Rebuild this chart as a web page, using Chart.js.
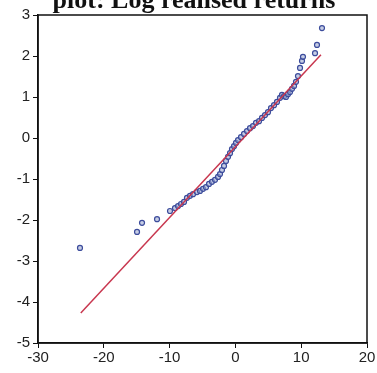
<!DOCTYPE html>
<html>
<head>
<meta charset="utf-8">
<script src="https://cdn.jsdelivr.net/npm/chart.js@4"></script>
<style>
  html, body { margin: 0; padding: 0; background: #fff; overflow: hidden; }
  #wrap { position: relative; width: 377px; height: 373px; }
  #title {
    position: absolute; left: 0; width: 388px; top: -15px;
    text-align: center; font: bold 26px "Liberation Serif", "DejaVu Serif", serif; color: #111;
    white-space: nowrap;
  }
</style>
</head>
<body>
<div id="wrap">
  <canvas id="qq" width="377" height="373"></canvas>
  <div id="title">plot: Log realised returns</div>
</div>
<script>
// quantiles of the data (x) against normal quantiles (y)
const dataQuantiles = [-23.62, -14.95, -14.19, -11.91, -9.94, -9.18, -8.72, -8.27, -7.81, -7.36,
  -6.90, -6.44, -5.84, -5.38, -4.92, -4.47, -4.01, -3.56, -3.10, -2.64,
  -2.34, -2.04, -1.73, -1.43, -1.12, -0.82, -0.52, -0.21, 0.09, 0.40,
  0.85, 1.31, 1.76, 2.22, 2.67, 3.13, 3.59, 4.04, 4.50, 4.95,
  5.41, 5.87, 6.32, 6.78, 7.08, 7.39, 7.69, 7.99, 8.30, 8.60,
  8.91, 9.21, 9.51, 9.82, 10.12, 10.27, 12.10, 12.40, 13.16];
const normalQuantiles = [-2.68, -2.29, -2.07, -1.98, -1.78, -1.71, -1.66, -1.61, -1.56, -1.46,
  -1.41, -1.37, -1.32, -1.29, -1.24, -1.20, -1.12, -1.07, -1.02, -0.95,
  -0.88, -0.78, -0.68, -0.56, -0.46, -0.37, -0.27, -0.20, -0.12, -0.05,
  0.02, 0.10, 0.17, 0.24, 0.29, 0.37, 0.41, 0.49, 0.56, 0.63,
  0.73, 0.80, 0.88, 0.98, 1.05, 1.02, 1.00, 1.07, 1.12, 1.20,
  1.27, 1.37, 1.51, 1.71, 1.88, 1.98, 2.07, 2.27, 2.68];
const refLineX = [-23.5, 13.0];
const refLineY = [-4.27, 2.03];
const xTicks = [-30, -20, -10, 0, 10, 20];
const yTicks = [-5, -4, -3, -2, -1, 0, 1, 2, 3];

const pts = dataQuantiles.map((x, i) => ({ x: x, y: normalQuantiles[i] }));
const refLine = refLineX.map((x, i) => ({ x: x, y: refLineY[i] }));

// EViews style frame round the plot area
const boxPlugin = {
  id: 'box',
  afterDraw(chart) {
    const a = chart.chartArea, ctx = chart.ctx;
    ctx.save();
    ctx.strokeStyle = '#111';
    ctx.lineWidth = 1.5;
    ctx.strokeRect(a.left, a.top, a.right - a.left, a.bottom - a.top);
    ctx.restore();
  }
};

const tickFont = { family: '"Liberation Sans", Arial, sans-serif', size: 15 };

new Chart(document.getElementById('qq'), {
  type: 'scatter',
  data: {
    datasets: [
      {
        type: 'line',
        data: refLine,
        borderColor: '#c8374f',
        borderWidth: 1.5,
        pointRadius: 0,
        fill: false
      },
      {
        data: pts,
        pointRadius: 2.5,
        pointBorderWidth: 1.2,
        borderColor: '#3c4c9c',
        backgroundColor: 'rgba(160,172,210,0.6)'
      }
    ]
  },
  options: {
    responsive: false,
    animation: false,
    layout: { padding: { top: 15, right: 10, left: 0, bottom: 0 } },
    plugins: { legend: { display: false }, tooltip: { enabled: false } },
    scales: {
      x: {
        type: 'linear', min: -30, max: 20,
        afterBuildTicks: s => { s.ticks = xTicks.map(v => ({ value: v })); },
        afterFit: s => { s.height = 30; },
        ticks: { color: '#222', font: tickFont, padding: 1, maxRotation: 0 },
        grid: { drawOnChartArea: false, tickLength: 5, color: '#111' },
        border: { color: '#111', width: 1.5 }
      },
      y: {
        type: 'linear', min: -5, max: 3,
        afterBuildTicks: s => { s.ticks = yTicks.map(v => ({ value: v })); },
        afterFit: s => { s.width = 38; },
        ticks: { color: '#222', font: tickFont, padding: 3 },
        grid: { drawOnChartArea: false, tickLength: 5, color: '#111' },
        border: { color: '#111', width: 1.5 }
      }
    }
  },
  plugins: [boxPlugin]
});
</script>
</body>
</html>
